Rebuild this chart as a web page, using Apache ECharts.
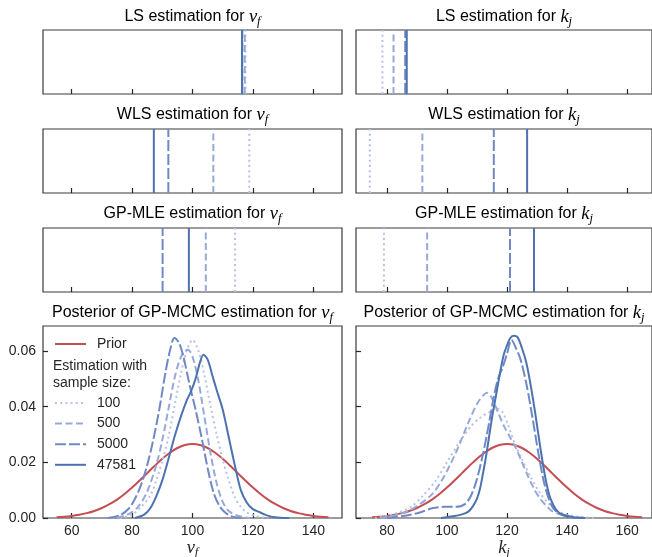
<!DOCTYPE html>
<html><head><meta charset="utf-8">
<script src="https://cdn.jsdelivr.net/npm/echarts@6/dist/echarts.min.js"></script>
<style>html,body{margin:0;padding:0;background:#fff}#c{width:652px;height:557px}</style>
</head><body><div id="c"></div>
<script>
// ---------- data ----------
const sizeLabels = ['100', '500', '5000', '47581'];
const vfTicks = [60, 80, 100, 120, 140];
const kjTicks = [80, 100, 120, 140, 160];
const yTicks = [0, 0.02, 0.04, 0.06];
const yTickLabels = ['0.00', '0.02', '0.04', '0.06'];

// point estimates (order: 100, 500, 5000, 47581)
const lsVf  = [117.5, 117.3, 116.5, 116.4];
const lsKj  = [78.5, 82.2, 86.1, 86.6];
const wlsVf = [118.8, 106.9, 92.0, 87.2];
const wlsKj = [74.3, 91.8, 115.6, 126.7];
const mleVf = [114.1, 104.4, 90.1, 98.8];
const mleKj = [79.0, 93.4, 121.0, 129.0];

// prior densities
const priorVf = [[55,0.0003],[57.5,0.00048],[60,0.00076],[62.5,0.00117],[65,0.00175],[67.5,0.00254],[70,0.0036],[72.5,0.00496],[75,0.00663],[77.5,0.00864],[80,0.01093],[82.5,0.01347],[85,0.01613],[87.5,0.01879],[90,0.0213],[92.5,0.02347],[95,0.02516],[97.5,0.02623],[100,0.0266],[102.5,0.02623],[105,0.02516],[107.5,0.02347],[110,0.0213],[112.5,0.01879],[115,0.01613],[117.5,0.01347],[120,0.01093],[122.5,0.00864],[125,0.00663],[127.5,0.00496],[130,0.0036],[132.5,0.00254],[135,0.00175],[137.5,0.00117],[140,0.00076],[142.5,0.00048],[145,0.0003]];
const priorKj = [[75,0.0003],[77.5,0.00048],[80,0.00076],[82.5,0.00117],[85,0.00175],[87.5,0.00254],[90,0.0036],[92.5,0.00496],[95,0.00663],[97.5,0.00864],[100,0.01093],[102.5,0.01347],[105,0.01613],[107.5,0.01879],[110,0.0213],[112.5,0.02347],[115,0.02516],[117.5,0.02623],[120,0.0266],[122.5,0.02623],[125,0.02516],[127.5,0.02347],[130,0.0213],[132.5,0.01879],[135,0.01613],[137.5,0.01347],[140,0.01093],[142.5,0.00864],[145,0.00663],[147.5,0.00496],[150,0.0036],[152.5,0.00254],[155,0.00175],[157.5,0.00117],[160,0.00076],[162.5,0.00048],[165,0.0003]];

// posterior densities for v_f
const postVf100 = [[76,0],[80,0.0012],[83,0.004],[86,0.008],[88,0.0135],[90,0.0205],[92,0.029],[94,0.040],[96,0.051],[98,0.060],[100,0.064],[102,0.060],[104,0.051],[106,0.040],[108,0.030],[110,0.021],[112,0.0135],[114,0.0075],[116,0.004],[118,0.002],[121,0.0007],[125,0]];
const postVf500 = [[75,0],[79,0.0015],[82,0.004],[85,0.0095],[88,0.019],[90,0.028],[92,0.039],[94,0.050],[95.5,0.056],[97,0.0595],[98.5,0.0605],[100,0.058],[102,0.049],[104,0.036],[106,0.023],[108,0.0125],[110,0.0058],[112,0.0025],[115,0.0008],[119,0]];
const postVf5000 = [[72,0],[76,0.001],[79,0.0035],[81,0.007],[83,0.012],[85,0.019],[87,0.028],[89,0.039],[91,0.052],[92.5,0.060],[94,0.0647],[95.5,0.063],[97,0.058],[99,0.048],[101,0.039],[103,0.029],[105,0.018],[107,0.009],[109,0.0042],[111,0.0018],[113,0.0006],[116,0]];
const postVf47581 = [[81,0],[84,0.0012],[86,0.0035],[88,0.0078],[90,0.0135],[92,0.021],[94,0.029],[96,0.036],[98,0.042],[99.5,0.0455],[101,0.050],[102.5,0.056],[103.6,0.0587],[105,0.057],[106.5,0.0515],[108,0.046],[110,0.039],[112,0.029],[114,0.019],[116,0.010],[118,0.0055],[120,0.0032],[122,0.0022],[124,0.0012],[126,0.0005],[129,0.0001],[132,0]];

// posterior densities for k_j
const postKj100 = [[76,0],[80,0.0008],[84,0.002],[88,0.004],[92,0.008],[96,0.013],[100,0.020],[104,0.027],[108,0.033],[111,0.036],[114,0.038],[116.5,0.0395],[118.5,0.038],[120.5,0.033],[122.5,0.027],[125,0.021],[128,0.0145],[131,0.009],[134,0.005],[137,0.0025],[140,0.0012],[144,0.0004],[150,0]];
const postKj500 = [[78,0],[83,0.001],[87,0.0025],[91,0.005],[95,0.0085],[98,0.013],[101,0.019],[104,0.026],[107,0.034],[110,0.041],[112,0.044],[113.5,0.045],[115,0.043],[117,0.038],[119,0.033],[121,0.029],[123,0.025],[125,0.020],[127,0.015],[129,0.0105],[131,0.007],[133,0.0045],[135,0.0025],[138,0.0012],[142,0.0004],[147,0]];
const postKj5000 = [[80,0],[86,0.0008],[91,0.002],[95,0.0035],[99,0.004],[103,0.004],[106,0.005],[108,0.008],[110,0.014],[112,0.023],[114,0.034],[115.5,0.043],[117,0.050],[118.5,0.054],[120,0.059],[121.5,0.064],[123,0.061],[124.5,0.057],[126.5,0.048],[128.5,0.036],[130.5,0.023],[132.5,0.012],[134.5,0.0052],[136.5,0.0022],[139,0.0008],[143,0]];
const postKj47581 = [[98,0],[102,0.0006],[105,0.0013],[107,0.0022],[108.5,0.004],[110,0.007],[111,0.0105],[112,0.016],[113,0.022],[114,0.029],[115,0.036],[116,0.042],[117,0.048],[118,0.054],[119,0.059],[120,0.062],[121,0.0645],[122.2,0.0655],[123.5,0.065],[125,0.061],[126.5,0.0555],[128,0.047],[129.5,0.037],[131,0.026],[132.5,0.016],[134,0.0085],[135.5,0.0045],[137,0.0022],[139,0.0011],[142,0.0003],[146,0]];

// ---------- styles ----------
const sizeColors = ['#b6c1e6', '#97a9d9', '#6f89c7', '#4c72b0'];
const sizeDash = [[2, 3.2], [7, 3.5], [11, 3], 'solid'];
const priorColor = '#c44e52';
const txt = '#262626';
const sans = "'Liberation Sans', Arial, sans-serif";
const serif = "'Liberation Serif', 'DejaVu Serif', serif";

const colL = { left: 43, width: 299, min: 50.5, max: 149.5, ticks: vfTicks };
const colR = { left: 356, width: 296, min: 69.7, max: 168.3, ticks: kjTicks };
const rows = [{ top: 30, height: 64 }, { top: 129, height: 64 }, { top: 228, height: 64 }, { top: 326, height: 192 }];

const grids = [], xAxes = [], yAxes = [], series = [];
const mathRich = {
  v: { fontFamily: serif, fontStyle: 'italic', fontSize: 18.5, lineHeight: 22, color: txt, verticalAlign: 'middle' },
  s: { fontFamily: serif, fontStyle: 'italic', fontSize: 12.5, lineHeight: 12, color: txt, verticalAlign: 'bottom' },
  t: { fontFamily: sans, fontSize: 16, lineHeight: 22, color: txt, verticalAlign: 'middle' }
};

rows.forEach((r, ri) => {
  [colL, colR].forEach((c, ci) => {
    const gi = grids.length;
    const bottomRow = ri === 3;
    grids.push({ left: c.left, top: r.top, width: c.width, height: r.height, show: true,
      borderColor: '#3a3a3a', borderWidth: 1.2, backgroundColor: 'transparent',
      containLabel: false, outerBoundsMode: 'none' });
    xAxes.push({
      type: 'value', gridIndex: gi, min: c.min, max: c.max,
      axisLine: { show: false },
      axisTick: { show: true, inside: true, length: 5, lineStyle: { color: txt, width: 1.2 }, customValues: c.ticks },
      axisLabel: { show: bottomRow, customValues: c.ticks, color: txt, fontSize: 14, fontFamily: sans, margin: 6 },
      splitLine: { show: false },
      name: bottomRow ? (ci === 0 ? '{v|v}{s|f}' : '{v|k}{s|j}') : '',
      nameLocation: 'middle', nameGap: 17,
      nameTextStyle: { rich: mathRich }
    });
    yAxes.push(bottomRow ? {
      type: 'value', gridIndex: gi, min: 0, max: 0.069,
      axisLine: { show: false },
      axisTick: { show: true, inside: true, length: 5, lineStyle: { color: txt, width: 1.2 }, customValues: yTicks },
      axisLabel: { show: ci === 0, customValues: yTicks, color: txt, fontSize: 14, fontFamily: sans, margin: 7,
        formatter: v => yTickLabels[yTicks.indexOf(+v.toFixed(2))] },
      splitLine: { show: false }
    } : {
      type: 'value', gridIndex: gi, min: 0, max: 1, show: false
    });
  });
});

function vlines(gi, vals) {
  vals.forEach((v, j) => series.push({
    type: 'line', name: sizeLabels[j], xAxisIndex: gi, yAxisIndex: gi, data: [[v, 0], [v, 1]],
    symbol: 'none', animation: false, silent: true,
    lineStyle: { color: sizeColors[j], width: 2, type: sizeDash[j], cap: 'butt' }, itemStyle: { color: sizeColors[j] }
  }));
}
vlines(0, lsVf); vlines(1, lsKj);
vlines(2, wlsVf); vlines(3, wlsKj);
vlines(4, mleVf); vlines(5, mleKj);

function curve(gi, name, data, color, dash) {
  series.push({
    type: 'line', name, xAxisIndex: gi, yAxisIndex: gi, data, symbol: 'none', animation: false, silent: true,
    smooth: 0.3,
    lineStyle: { color, width: 2, type: dash, cap: 'butt' }, itemStyle: { color }
  });
}
curve(6, 'Prior', priorVf, priorColor, 'solid');
curve(7, 'Prior', priorKj, priorColor, 'solid');
[postVf100, postVf500, postVf5000, postVf47581].forEach((d, j) => curve(6, sizeLabels[j], d, sizeColors[j], sizeDash[j]));
[postKj100, postKj500, postKj5000, postKj47581].forEach((d, j) => curve(7, sizeLabels[j], d, sizeColors[j], sizeDash[j]));

const titles = [
  ['LS estimation for ', 'v', 'f', 192.5, 17], ['LS estimation for ', 'k', 'j', 504, 17],
  ['WLS estimation for ', 'v', 'f', 192.5, 115], ['WLS estimation for ', 'k', 'j', 504, 115],
  ['GP-MLE estimation for ', 'v', 'f', 192.5, 214], ['GP-MLE estimation for ', 'k', 'j', 504, 214],
  ['Posterior of GP-MCMC estimation for ', 'v', 'f', 192.5, 313], ['Posterior of GP-MCMC estimation for ', 'k', 'j', 504, 313]
];
const graphics = titles.map(t => ({
  type: 'text', x: t[3], y: t[4], silent: true,
  style: { text: '{t|' + t[0] + '}{v|' + t[1] + '}{s|' + t[2] + '}', rich: mathRich, align: 'center', verticalAlign: 'middle' }
}));
graphics.push({
  type: 'text', x: 53, y: 358, silent: true,
  style: { text: 'Estimation with\nsample size:', font: '14px ' + sans, fill: txt, lineHeight: 17, align: 'left', verticalAlign: 'top' }
});

const legendText = { color: txt, fontSize: 14, fontFamily: sans, lineHeight: 14, padding: [0, 0, 0, 6] };
const legendCommon = { padding: 0, itemWidth: 31, itemHeight: 14, textStyle: legendText, selectedMode: false,
  itemStyle: { opacity: 0, borderWidth: 0 } };
const option = {
  backgroundColor: '#ffffff',
  animation: false,
  grid: grids, xAxis: xAxes, yAxis: yAxes, series,
  graphic: graphics,
  legend: [
    Object.assign({ data: ['Prior'], left: 54, top: 337 }, legendCommon),
    Object.assign({ data: sizeLabels, orient: 'vertical', left: 54, top: 396, itemGap: 6.6 }, legendCommon)
  ]
};
const chart = echarts.init(document.getElementById('c'), null, { renderer: 'canvas' });
chart.setOption(option);
</script></body></html>
